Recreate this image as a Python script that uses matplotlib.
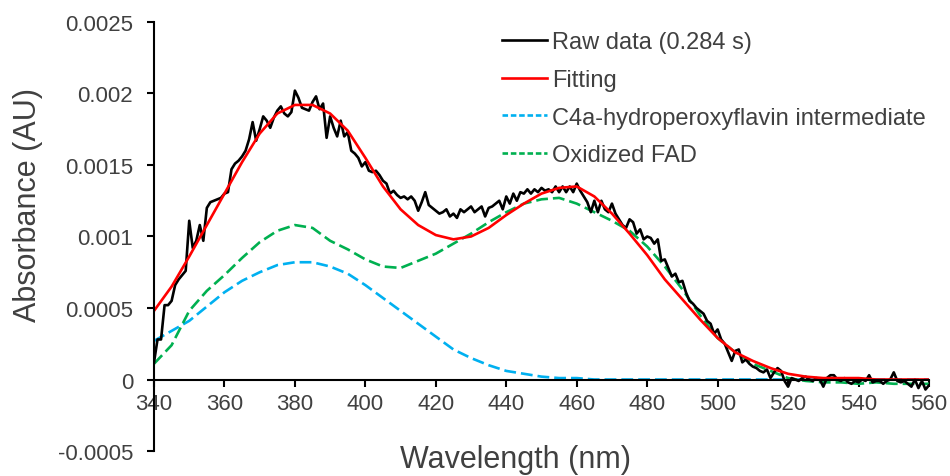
import matplotlib
matplotlib.use("Agg")
import matplotlib.pyplot as plt
from matplotlib.lines import Line2D
import numpy as np

plt.rcParams['font.family'] = ['Liberation Sans', 'DejaVu Sans']
plt.rcParams['lines.scale_dashes'] = False

# ---------------- data ----------------
raw_wavelength = list(range(340, 561))
raw_absorbance = [
    0.00012, 0.00028, 0.00028, 0.00052, 0.00052, 0.00055, 0.00066, 0.00070, 0.00073, 0.00076,  # 340-349
    0.00111, 0.00092, 0.00097, 0.00108, 0.00097, 0.00120, 0.00124, 0.00125, 0.00126, 0.00127,  # 350-359
    0.00130, 0.00131, 0.00147, 0.00151, 0.00153, 0.00156, 0.00160, 0.00168, 0.00180, 0.00167,  # 360-369
    0.00175, 0.00184, 0.00181, 0.00176, 0.00183, 0.00188, 0.00191, 0.00186, 0.00184, 0.00187,  # 370-379
    0.00202, 0.00197, 0.00190, 0.00189, 0.00188, 0.00194, 0.00198, 0.00189, 0.00193, 0.00169,  # 380-389
    0.00184, 0.00176, 0.00170, 0.00181, 0.00170, 0.00173, 0.00160, 0.00158, 0.00155, 0.00149,  # 390-399
    0.00152, 0.00146, 0.00145, 0.00146, 0.00143, 0.00139, 0.00137, 0.00130, 0.00132, 0.00129,  # 400-409
    0.00127, 0.00128, 0.00126, 0.00128, 0.00125, 0.00118, 0.00124, 0.00131, 0.00122, 0.00120,  # 410-419
    0.00118, 0.00116, 0.00117, 0.00119, 0.00114, 0.00116, 0.00113, 0.00119, 0.00117, 0.00119,  # 420-429
    0.00121, 0.00117, 0.00119, 0.00121, 0.00114, 0.00120, 0.00121, 0.00123, 0.00125, 0.00119,  # 430-439
    0.00128, 0.00123, 0.00130, 0.00125, 0.00131, 0.00130, 0.00133, 0.00130, 0.00133, 0.00131,  # 440-449
    0.00134, 0.00132, 0.00133, 0.00131, 0.00135, 0.00131, 0.00135, 0.00131, 0.00135, 0.00131,  # 450-459
    0.00137, 0.00132, 0.00128, 0.00124, 0.00117, 0.00125, 0.00117, 0.00125, 0.00119, 0.00117,  # 460-469
    0.00123, 0.00116, 0.00112, 0.00108, 0.00106, 0.00112, 0.00110, 0.00102, 0.00105, 0.00098,  # 470-479
    0.00100, 0.00099, 0.00095, 0.00098, 0.00083, 0.00084, 0.00078, 0.00072, 0.00074, 0.00068,  # 480-489
    0.00069, 0.00061, 0.00055, 0.00053, 0.00050, 0.00048, 0.00046, 0.00041, 0.00039, 0.00032,  # 490-499
    0.00035, 0.00028, 0.00025, 0.00019, 0.00013, 0.00020, 0.00021, 0.00012, 0.00014, 0.00011,  # 500-509
    0.00009, 0.00008, 0.00006, 0.00005, 0.00007, 0.00001, 0.00005, 0.00008, 0.00006, -0.00001,  # 510-519
    -0.00005, 0.00001, 0.00000, -0.00001, 0.00001, 0.00002, 0.00000, -0.00001, 0.00001, 0.00000,  # 520-529
    -0.00005, 0.00001, 0.00003, 0.00003, 0.00000, -0.00001, 0.00001, -0.00002, -0.00003, -0.00001,  # 530-539
    -0.00002, 0.00000, -0.00001, 0.00003, -0.00002, -0.00001, -0.00001, -0.00003, -0.00001, 0.00000,  # 540-549
    0.00005, -0.00001, -0.00002, -0.00001, -0.00003, -0.00005, 0.00000, -0.00006, -0.00001, -0.00007,  # 550-559
    -0.00004,  # 560
]

fit_wavelength = list(range(340, 561, 5))
fitting = [
    0.00048, 0.00065, 0.00086, 0.00108, 0.00130, 0.00152, 0.00172, 0.00186, 0.00192, 0.00192,  # 340-385
    0.00186, 0.00174, 0.00155, 0.00135, 0.00119, 0.00108, 0.00101, 0.00098, 0.00100, 0.00106,  # 390-435
    0.00115, 0.00123, 0.00130, 0.00134, 0.00135, 0.00128, 0.00116, 0.00102, 0.00087, 0.00070,  # 440-485
    0.00056, 0.00042, 0.00029, 0.00019, 0.00013, 0.00008, 0.00004, 0.00002, 0.00001, 0.00001,  # 490-535
    0.00001, 0.00000, 0.00000, 0.00000, 0.00000,  # 540-560
]
c4a_intermediate = [
    0.00027, 0.00034, 0.00041, 0.00051, 0.00061, 0.00069, 0.00075, 0.00080, 0.00082, 0.00082,  # 340-385
    0.00079, 0.00074, 0.00066, 0.00057, 0.00048, 0.00039, 0.00030, 0.00021, 0.00015, 0.00010,  # 390-435
    0.00006, 0.00004, 0.00002, 0.00001, 0.00001, 0.00000, 0.00000, 0.00000, 0.00000, 0.00000,  # 440-485
    0.00000, 0.00000, 0.00000, 0.00000, 0.00000, 0.00000, 0.00000, 0.00000, 0.00000, 0.00000,  # 490-535
    0.00000, 0.00000, 0.00000, 0.00000, 0.00000,  # 540-560
]
oxidized_fad = [
    0.00011, 0.00024, 0.00048, 0.00062, 0.00073, 0.00085, 0.00096, 0.00104, 0.00108, 0.00106,  # 340-385
    0.00097, 0.00091, 0.00084, 0.00079, 0.00078, 0.00083, 0.00088, 0.00095, 0.00102, 0.00110,  # 390-435
    0.00117, 0.00123, 0.00126, 0.00127, 0.00123, 0.00117, 0.00111, 0.00104, 0.00093, 0.00079,  # 440-485
    0.00063, 0.00045, 0.00029, 0.00019, 0.00011, 0.00006, 0.00001, -0.00001, -0.00002, -0.00002,  # 490-535
    -0.00003, -0.00002, -0.00003, -0.00003, -0.00003,  # 540-560
]

series_labels = ["Raw data (0.284 s)", "Fitting",
                 "C4a-hydroperoxyflavin intermediate", "Oxidized FAD"]
x_ticks = [340, 360, 380, 400, 420, 440, 460, 480, 500, 520, 540, 560]
y_ticks = [-0.0005, 0, 0.0005, 0.001, 0.0015, 0.002, 0.0025]
y_tick_labels = ["-0.0005", "0", "0.0005", "0.001", "0.0015", "0.002", "0.0025"]

# ---------------- style ----------------
C_BLACK = "#000000"
C_RED = "#FF0000"
C_BLUE = "#00B0F0"
C_GREEN = "#00B050"
TXT = "#404040"
LW = 1.9
PLOT_DASH = (0, (8.5, 3.6))
LEG_DASH = (0, (4.0, 2.0))

fig = plt.figure(figsize=(9.5, 4.77), dpi=100)
ax = fig.add_axes([0.1621, 0.0524, 0.8158, 0.8994])

ax.plot(fit_wavelength, c4a_intermediate, color=C_BLUE, lw=LW, linestyle=PLOT_DASH)
ax.plot(fit_wavelength, oxidized_fad, color=C_GREEN, lw=LW, linestyle=PLOT_DASH)
ax.plot(raw_wavelength, raw_absorbance, color=C_BLACK, lw=LW, solid_joinstyle="round")
ax.plot(fit_wavelength, fitting, color=C_RED, lw=LW, solid_joinstyle="round")

ax.set_xlim(340, 560)
ax.set_ylim(-0.0005, 0.0025)
ax.set_xticks(x_ticks)
ax.set_yticks(y_ticks)
ax.set_yticklabels(y_tick_labels)

for s in ("top", "right"):
    ax.spines[s].set_visible(False)
ax.spines["bottom"].set_position(("data", 0))
ax.spines["left"].set_linewidth(1.5)
ax.spines["bottom"].set_linewidth(1.5)

ax.tick_params(axis="both", direction="out", length=5, width=1.5,
               colors=C_BLACK, labelcolor=TXT, labelsize=16)
ax.tick_params(axis="y", pad=10)
ax.tick_params(axis="x", pad=5)

ax.set_xlabel("Wavelength (nm)", fontsize=22, color=TXT)
ax.set_ylabel("Absorbance (AU)", fontsize=22, color=TXT)
ax.xaxis.set_label_coords(0.467, -0.019)
ax.xaxis.label.set_va("center")
ax.yaxis.set_label_coords(-0.1626, 0.576)
ax.yaxis.label.set_va("center")

handles = [
    Line2D([], [], color=C_BLACK, lw=LW),
    Line2D([], [], color=C_RED, lw=LW),
    Line2D([], [], color=C_BLUE, lw=LW, linestyle=LEG_DASH),
    Line2D([], [], color=C_GREEN, lw=LW, linestyle=LEG_DASH),
]
leg = ax.legend(handles, series_labels, loc="upper left",
                bbox_to_anchor=(0.437, 1.0), frameon=False,
                fontsize=17, handlelength=1.9, handletextpad=0.2,
                labelspacing=0.66, borderaxespad=0)
for t in leg.get_texts():
    t.set_color(TXT)

fig.savefig("out.png", dpi=100)
